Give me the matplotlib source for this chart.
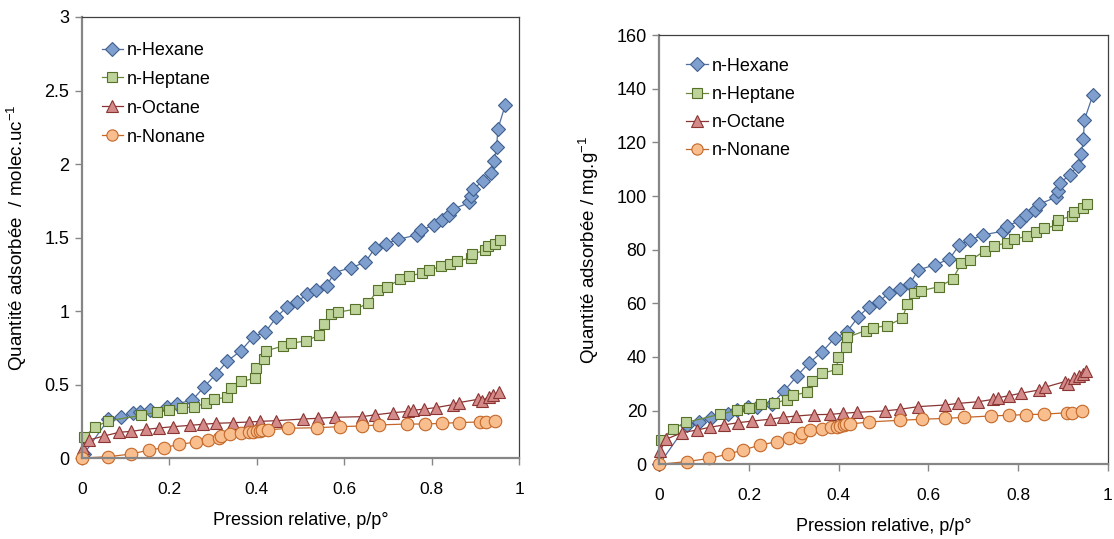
import matplotlib
matplotlib.use("Agg")
import matplotlib.pyplot as plt
from matplotlib.ticker import FuncFormatter

plt.rcParams['font.family'] = ['Liberation Sans', 'DejaVu Sans']
plt.rcParams['mathtext.fontset'] = 'custom'
plt.rcParams['mathtext.rm'] = 'Liberation Sans'
plt.rcParams['mathtext.it'] = 'Liberation Sans'

# ---------------- Left panel (molec/uc) ----------------
hex_x_L = [0.005, 0.061, 0.089, 0.116, 0.133, 0.156, 0.194, 0.217, 0.253, 0.280, 0.307, 0.333, 0.364,
           0.392, 0.419, 0.445, 0.468, 0.493, 0.514, 0.535, 0.560, 0.577, 0.615, 0.648, 0.670, 0.695,
           0.722, 0.767, 0.775, 0.805, 0.823, 0.840, 0.849, 0.886, 0.890, 0.895, 0.916, 0.935, 0.942,
           0.948, 0.951, 0.968]
hex_y_L = [0.03, 0.265, 0.283, 0.306, 0.317, 0.328, 0.351, 0.369, 0.397, 0.487, 0.573, 0.662, 0.732,
           0.827, 0.857, 0.959, 1.027, 1.061, 1.118, 1.145, 1.172, 1.262, 1.296, 1.332, 1.430, 1.458,
           1.488, 1.519, 1.550, 1.587, 1.621, 1.655, 1.694, 1.739, 1.780, 1.832, 1.882, 1.939, 2.018,
           2.115, 2.240, 2.403]

hep_x_L = [0.004, 0.030, 0.059, 0.136, 0.173, 0.200, 0.229, 0.257, 0.284, 0.302, 0.331, 0.340, 0.365,
           0.396, 0.398, 0.417, 0.420, 0.461, 0.478, 0.512, 0.542, 0.554, 0.570, 0.585, 0.624, 0.655,
           0.676, 0.697, 0.727, 0.748, 0.777, 0.794, 0.820, 0.842, 0.858, 0.890, 0.892, 0.921, 0.928,
           0.944, 0.956]
hep_y_L = [0.142, 0.211, 0.254, 0.292, 0.315, 0.326, 0.342, 0.351, 0.374, 0.401, 0.415, 0.481, 0.523,
           0.544, 0.616, 0.676, 0.730, 0.764, 0.782, 0.798, 0.837, 0.911, 0.979, 0.993, 1.013, 1.054,
           1.145, 1.162, 1.217, 1.240, 1.258, 1.281, 1.304, 1.320, 1.343, 1.361, 1.388, 1.413, 1.440,
           1.458, 1.481]

oct_x_L = [0.002, 0.017, 0.051, 0.086, 0.112, 0.147, 0.177, 0.208, 0.247, 0.276, 0.307, 0.345, 0.383,
           0.407, 0.444, 0.505, 0.539, 0.579, 0.640, 0.669, 0.711, 0.745, 0.756, 0.783, 0.810, 0.848,
           0.861, 0.905, 0.914, 0.931, 0.940, 0.953]
oct_y_L = [0.068, 0.125, 0.152, 0.177, 0.183, 0.197, 0.206, 0.215, 0.224, 0.231, 0.238, 0.242, 0.247,
           0.251, 0.256, 0.267, 0.272, 0.279, 0.283, 0.295, 0.310, 0.319, 0.326, 0.335, 0.345, 0.365,
           0.378, 0.401, 0.392, 0.419, 0.428, 0.451]

non_x_L = [0.0, 0.061, 0.112, 0.154, 0.189, 0.223, 0.261, 0.289, 0.314, 0.318, 0.339, 0.365, 0.383,
           0.392, 0.400, 0.407, 0.413, 0.426, 0.471, 0.537, 0.589, 0.640, 0.680, 0.743, 0.784, 0.824,
           0.863, 0.909, 0.924, 0.944]
non_y_L = [0.002, 0.011, 0.029, 0.056, 0.073, 0.095, 0.111, 0.125, 0.136, 0.154, 0.163, 0.174, 0.179,
           0.179, 0.183, 0.186, 0.193, 0.193, 0.204, 0.208, 0.215, 0.220, 0.227, 0.233, 0.233, 0.238,
           0.243, 0.247, 0.247, 0.254]

# ---------------- Right panel (mg/g) ----------------
hex_x_R = [0.0, 0.061, 0.089, 0.115, 0.154, 0.173, 0.197, 0.217, 0.251, 0.279, 0.307, 0.333, 0.362,
           0.392, 0.418, 0.443, 0.468, 0.490, 0.513, 0.536, 0.559, 0.577, 0.614, 0.647, 0.669, 0.692,
           0.723, 0.766, 0.775, 0.805, 0.819, 0.839, 0.848, 0.884, 0.889, 0.894, 0.915, 0.933, 0.941,
           0.946, 0.948, 0.967]
hex_y_R = [0.0, 14.6, 15.9, 17.1, 18.7, 20.2, 21.2, 21.5, 22.5, 27.4, 32.9, 37.6, 41.7,
           47.2, 49.2, 54.8, 58.8, 60.6, 64.0, 65.3, 67.2, 72.4, 74.3, 76.5, 81.7, 83.6,
           85.5, 86.9, 88.8, 90.8, 92.9, 94.8, 97.0, 99.5, 102.0, 104.9, 107.8, 111.2, 115.6,
           121.2, 128.3, 137.6]

hep_x_R = [0.004, 0.030, 0.059, 0.135, 0.173, 0.201, 0.228, 0.256, 0.284, 0.299, 0.330, 0.341, 0.364,
           0.396, 0.398, 0.417, 0.418, 0.460, 0.477, 0.509, 0.542, 0.553, 0.568, 0.584, 0.624, 0.654,
           0.674, 0.694, 0.726, 0.746, 0.775, 0.792, 0.820, 0.840, 0.858, 0.888, 0.890, 0.920, 0.926,
           0.944, 0.955]
hep_y_R = [9.1, 13.2, 15.6, 18.6, 20.1, 21.0, 22.4, 22.7, 24.1, 25.8, 26.8, 31.0, 33.9,
           35.4, 39.9, 43.8, 47.3, 49.8, 50.9, 51.7, 54.4, 59.6, 63.7, 64.7, 66.2, 68.9,
           75.0, 76.0, 79.6, 81.3, 82.6, 83.8, 85.1, 86.4, 87.9, 89.2, 91.1, 92.5, 94.2,
           95.7, 97.2]

oct_x_R = [0.002, 0.016, 0.051, 0.085, 0.113, 0.145, 0.176, 0.206, 0.247, 0.275, 0.306, 0.346, 0.381,
           0.409, 0.442, 0.503, 0.537, 0.578, 0.637, 0.667, 0.710, 0.745, 0.755, 0.781, 0.807, 0.847,
           0.860, 0.904, 0.911, 0.925, 0.935, 0.944, 0.952]
oct_y_R = [5.1, 9.4, 11.8, 12.8, 13.8, 14.7, 15.5, 16.1, 16.8, 17.5, 18.0, 18.5, 18.6,
           19.0, 19.4, 19.9, 20.5, 21.5, 22.1, 22.7, 23.3, 24.2, 24.8, 25.6, 26.5, 27.7,
           28.7, 30.8, 29.8, 32.0, 32.9, 33.7, 34.9]

non_x_R = [0.0, 0.061, 0.112, 0.153, 0.187, 0.225, 0.262, 0.290, 0.314, 0.318, 0.336, 0.364, 0.384,
           0.396, 0.403, 0.411, 0.417, 0.426, 0.468, 0.537, 0.587, 0.637, 0.680, 0.739, 0.781, 0.819,
           0.858, 0.909, 0.921, 0.942]
non_y_R = [0.0, 1.0, 2.2, 3.8, 5.3, 7.2, 8.4, 9.7, 10.3, 11.8, 12.8, 13.2, 13.8,
           14.0, 14.4, 14.6, 15.0, 15.0, 15.8, 16.4, 16.8, 17.1, 17.5, 18.0, 18.3, 18.5,
           18.7, 19.2, 19.2, 19.9]

series_names = ["n-Hexane", "n-Heptane", "n-Octane", "n-Nonane"]
x_ticks = [0, 0.2, 0.4, 0.6, 0.8, 1]
y_ticks_L = [0, 0.5, 1, 1.5, 2, 2.5, 3]
y_ticks_R = [0, 20, 40, 60, 80, 100, 120, 140, 160]

styles = [
    dict(marker='D', ms=7.5, mfc='#7F9FCF', mec='#3F5F8F', color='#4F6F9F'),
    dict(marker='s', ms=7.5, mfc='#BDD39A', mec='#56702A', color='#6A8A3A'),
    dict(marker='^', ms=9, mfc='#D38A88', mec='#8B3533', color='#8B3533'),
    dict(marker='o', ms=9, mfc='#F9BE8E', mec='#C4682A', color='#C4682A'),
]

fig = plt.figure(figsize=(11.14, 5.39), dpi=100)
axL = fig.add_axes([0.0734, 0.1497, 0.3928, 0.8188])
axR = fig.add_axes([0.5918, 0.1386, 0.4025, 0.7964])

fmt = FuncFormatter(lambda v, p: ('%g' % v))

def draw(ax, data, yticks, ylabel, anchor, hlen, spacing):
    for (xs, ys), name, st in zip(data, series_names, styles):
        ax.plot(xs, ys, linestyle='-', linewidth=0.9, marker=st['marker'], markersize=st['ms'],
                markerfacecolor=st['mfc'], markeredgecolor=st['mec'], markeredgewidth=0.8,
                color=st['color'], label=name, clip_on=False)
    ax.set_xlim(0, 1)
    ax.set_ylim(yticks[0], yticks[-1])
    ax.set_xticks(x_ticks)
    ax.set_yticks(yticks)
    ax.xaxis.set_major_formatter(fmt)
    ax.yaxis.set_major_formatter(fmt)
    ax.tick_params(direction='out', length=5, width=1, color='#868686', labelsize=13, pad=4)
    ax.tick_params(axis='x', pad=12, labelsize=12.5)
    for s in ['left', 'bottom']:
        ax.spines[s].set_color('#868686')
        ax.spines[s].set_linewidth(1.6)
    for s in ['top', 'right']:
        ax.spines[s].set_color('#404040')
        ax.spines[s].set_linewidth(0.9)
    ax.set_xlabel("Pression relative, p/p°", fontsize=13, labelpad=11)
    ax.set_ylabel(ylabel, fontsize=13.5, labelpad=11)
    ax.legend(loc='upper left', bbox_to_anchor=anchor, frameon=False, fontsize=13,
              handlelength=hlen, handletextpad=0.2, labelspacing=spacing,
              borderaxespad=0.0, markerscale=0.9)

draw(axL, [(hex_x_L, hex_y_L), (hep_x_L, hep_y_L), (oct_x_L, oct_y_L), (non_x_L, non_y_L)],
     y_ticks_L, "Quantité adsorbée  / molec.uc$^{-1}$", (0.030, 0.960), 1.15, 0.66)
draw(axR, [(hex_x_R, hex_y_R), (hep_x_R, hep_y_R), (oct_x_R, oct_y_R), (non_x_R, non_y_R)],
     y_ticks_R, "Quantité adsorbée / mg.g$^{-1}$", (0.043, 0.964), 1.25, 0.62)

fig.savefig("out.png", dpi=100)
